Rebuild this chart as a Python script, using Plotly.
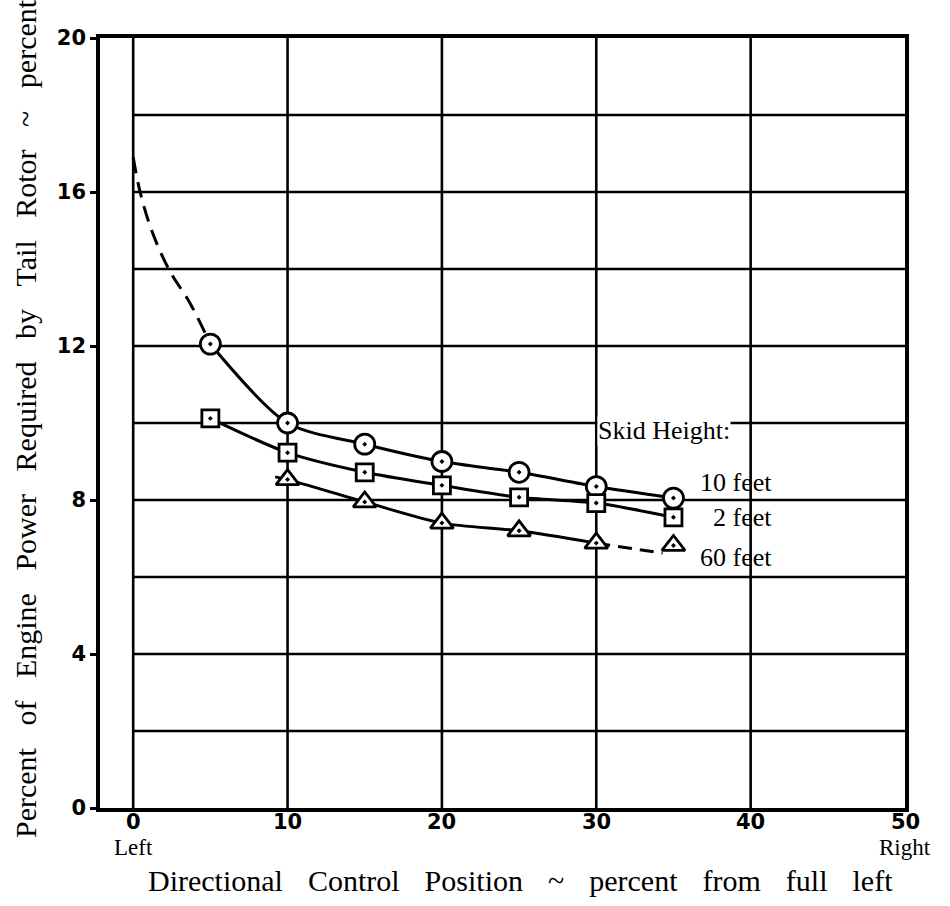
import plotly.graph_objects as go

# ---- data ----
x_pts = [5, 10, 15, 20, 25, 30, 35]
ten_ft = [12.05, 10.0, 9.45, 9.0, 8.72, 8.35, 8.05]
two_ft = [10.12, 9.23, 8.72, 8.38, 8.07, 7.92, 7.55]
sixty_x = [10, 15, 20, 25, 30, 35]
sixty_ft = [8.53, 7.95, 7.4, 7.2, 6.88, 6.82]

# faired curve portions
ten_dash_x = [0, 0.45, 1.2, 2.3, 3.7, 5]
ten_dash_y = [16.9, 16.0, 15.0, 14.0, 13.1, 12.05]
sixty_solid_x = [9.2, 10, 15, 20, 25, 30]
sixty_solid_y = [8.6, 8.53, 7.95, 7.4, 7.2, 6.88]
sixty_dash_x = [30, 34.3]
sixty_dash_y = [6.88, 6.62]

x_ticks = [0, 10, 20, 30, 40, 50]
x_tick_labels = ["0", "10", "20", "30", "40", "50"]
x_end_labels = {0: "Left", 50: "Right"}
y_ticks = [0, 4, 8, 12, 16, 20]
h_grid = [2, 4, 6, 8, 10, 12, 14, 16, 18]
v_grid = [0, 10, 20, 30, 40]

SERIF = "Liberation Serif"
BOLD = "DejaVu Sans"
LW = 3

fig = go.Figure()

# grid lines
shapes = []
for g in h_grid:
    shapes.append(dict(type="line", xref="x", yref="y", x0=0, x1=50, y0=g, y1=g,
                       line=dict(color="black", width=2.6), layer="below"))
for g in v_grid:
    shapes.append(dict(type="line", xref="x", yref="y", x0=g, x1=g, y0=0, y1=20,
                       line=dict(color="black", width=2.6), layer="below"))

# curves
fig.add_trace(go.Scatter(x=ten_dash_x, y=ten_dash_y, mode="lines",
                         line=dict(color="black", width=LW, dash="16px,9px", shape="spline"),
                         showlegend=False, hoverinfo="skip"))
fig.add_trace(go.Scatter(x=x_pts, y=ten_ft, mode="lines",
                         line=dict(color="black", width=LW, shape="spline", smoothing=0.8),
                         showlegend=False, hoverinfo="skip"))
fig.add_trace(go.Scatter(x=x_pts, y=two_ft, mode="lines",
                         line=dict(color="black", width=LW, shape="spline", smoothing=0.8),
                         showlegend=False, hoverinfo="skip"))
fig.add_trace(go.Scatter(x=sixty_solid_x, y=sixty_solid_y, mode="lines",
                         line=dict(color="black", width=LW, shape="spline", smoothing=0.8),
                         showlegend=False, hoverinfo="skip"))
fig.add_trace(go.Scatter(x=sixty_dash_x, y=sixty_dash_y, mode="lines",
                         line=dict(color="black", width=LW, dash="14px,8px"),
                         showlegend=False, hoverinfo="skip"))

# markers
fig.add_trace(go.Scatter(x=x_pts, y=ten_ft, mode="markers", name="10 feet",
                         marker=dict(symbol="circle-dot", size=20, color="white",
                                     line=dict(color="black", width=2.8)),
                         showlegend=False))
fig.add_trace(go.Scatter(x=x_pts, y=two_ft, mode="markers", name="2 feet",
                         marker=dict(symbol="square-dot", size=17, color="white",
                                     line=dict(color="black", width=2.8)),
                         showlegend=False))
fig.add_trace(go.Scatter(x=sixty_x, y=sixty_ft, mode="markers", name="60 feet",
                         marker=dict(symbol="triangle-up-dot", size=20, color="white",
                                     line=dict(color="black", width=2.8)),
                         showlegend=False))

xgap = "\u00a0\u00a0\u00a0\u200a"
ygap = "\u00a0\u00a0\u00a0"
x_title = xgap.join(["Directional", "Control", "Position", "~", "percent", "from", "full", "left"])
y_title = ygap.join(["Percent", "of", "Engine", "Power", "Required", "by", "Tail", "Rotor", "~", "percent"])

annotations = [
    dict(text="Skid Height:", x=34.4, y=9.8, xref="x", yref="y", showarrow=False,
         font=dict(family=SERIF, size=26, color="black"), bgcolor="white",
         xanchor="center", yanchor="middle", borderpad=0),
    dict(text="10 feet", x=41.5, y=8.45, xref="x", yref="y", showarrow=False,
         font=dict(family=SERIF, size=26, color="black"), xanchor="right", yanchor="middle"),
    dict(text="2 feet", x=41.5, y=7.55, xref="x", yref="y", showarrow=False,
         font=dict(family=SERIF, size=26, color="black"), xanchor="right", yanchor="middle"),
    dict(text="60 feet", x=41.5, y=6.5, xref="x", yref="y", showarrow=False,
         font=dict(family=SERIF, size=26, color="black"), xanchor="right", yanchor="middle"),
    dict(text=x_title,
         x=0.522, y=0, xref="paper", yref="paper", yshift=-72, showarrow=False,
         font=dict(family=SERIF, size=30, color="black"), xanchor="center", yanchor="middle"),
    dict(text=y_title,
         x=0, y=0.5, xref="paper", yref="paper", xshift=-75, yshift=4, textangle=-90,
         showarrow=False, font=dict(family=SERIF, size=30, color="black"),
         xanchor="center", yanchor="middle"),
]

# x tick numbers and end words (drawn at the axis' data positions)
for v, lab in zip(x_ticks, x_tick_labels):
    annotations.append(dict(text="<b>%s</b>" % lab, x=v, y=0, xref="x", yref="paper",
                            yshift=-14, showarrow=False, xanchor="center", yanchor="middle",
                            font=dict(family=BOLD, size=21, color="black")))
for v, lab in x_end_labels.items():
    annotations.append(dict(text=lab, x=v, y=0, xref="x", yref="paper", yshift=-39,
                            showarrow=False, xanchor="center", yanchor="middle",
                            font=dict(family=SERIF, size=23, color="black")))

fig.update_layout(
    width=950, height=906,
    margin=dict(l=100, r=45, t=38, b=98),
    paper_bgcolor="white", plot_bgcolor="white",
    shapes=shapes, annotations=annotations,
    xaxis=dict(range=[-2.15, 50], showgrid=False, zeroline=False,
               showline=True, mirror=True, linecolor="black", linewidth=3.5,
               tickvals=x_ticks, showticklabels=False, ticks=""),
    yaxis=dict(range=[0, 20], showgrid=False, zeroline=False,
               showline=True, mirror=True, linecolor="black", linewidth=3.5,
               tickvals=y_ticks, ticktext=[str(v) for v in y_ticks],
               ticks="outside", ticklen=6, tickwidth=2.5, tickcolor="black",
               tickfont=dict(family=BOLD, size=21, color="black", weight="bold")),
)

fig.write_html("out.html", config={"displayModeBar": False},
               post_script="document.body.style.margin='0';")
